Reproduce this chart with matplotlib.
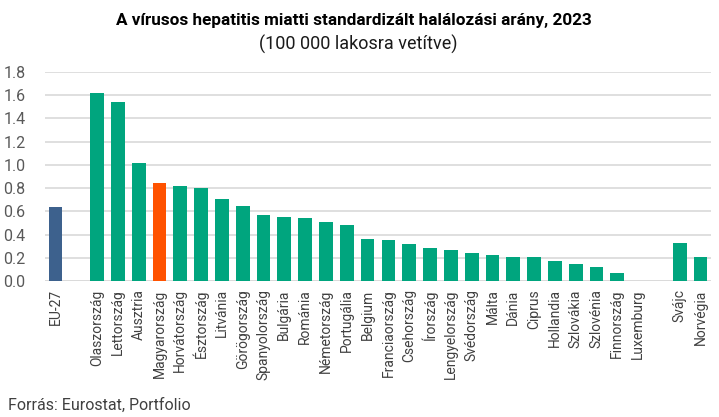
import matplotlib
matplotlib.use("Agg")
import matplotlib.pyplot as plt

countries = ["EU-27", "", "Olaszország", "Lettország", "Ausztria", "Magyarország",
             "Horvátország", "Észtország", "Litvánia", "Görögország", "Spanyolország",
             "Bulgária", "Románia", "Németország", "Portugália", "Belgium",
             "Franciaország", "Csehország", "Írország", "Lengyelország", "Svédország",
             "Málta", "Dánia", "Ciprus", "Hollandia", "Szlovákia", "Szlovénia",
             "Finnország", "Luxemburg", "", "Svájc", "Norvégia"]
values = [0.64, 0.0, 1.62, 1.54, 1.02, 0.84, 0.82, 0.80, 0.71, 0.65, 0.57,
          0.55, 0.54, 0.51, 0.48, 0.36, 0.35, 0.32, 0.28, 0.27, 0.24,
          0.22, 0.21, 0.21, 0.17, 0.15, 0.12, 0.07, 0.0, 0.0, 0.33, 0.21]
yticks = [0.0, 0.2, 0.4, 0.6, 0.8, 1.0, 1.2, 1.4, 1.6, 1.8]

GREEN = "#00A57E"
NAVY = "#3D618D"
ORANGE = "#FF5200"

plt.rcParams['font.family'] = ['Roboto', 'DejaVu Sans']

fig = plt.figure(figsize=(7.19, 4.17), dpi=100)
ax = fig.add_axes([45/719, 1-281/417, (711-45)/719, (281-72)/417])

colors = []
for c in countries:
    if c == "EU-27":
        colors.append(NAVY)
    elif c == "Magyarország":
        colors.append(ORANGE)
    else:
        colors.append(GREEN)

x = list(range(len(countries)))
ax.bar(x, values, width=0.66, color=colors, zorder=3)

ax.set_xlim(-0.5, len(countries) - 0.5)
ax.set_ylim(0, 1.8)
ax.set_yticks(yticks)
ax.set_yticklabels([f"{v:.1f}" for v in yticks], fontsize=11.5, color="#595959")
ax.set_xticks(x)
ax.set_xticklabels(countries, rotation=90, fontsize=10, color="#404040")
ax.tick_params(axis='both', length=0)
ax.tick_params(axis='y', pad=14)
ax.tick_params(axis='x', pad=6)
ax.grid(axis='y', color="#D9D9D9", linewidth=1.2, zorder=0)
for s in ax.spines.values():
    s.set_visible(False)
ax.axhline(0, color="#D9D9D9", linewidth=1.2, zorder=2)

fig.text(354/719, 1-20/417, "A vírusos hepatitis miatti standardizált halálozási arány, 2023",
         ha='center', va='center', fontsize=12.3, fontweight='bold', color="black")
fig.text(358/719, 1-44/417, "(100 000 lakosra vetítve)", ha='center', va='center',
         fontsize=13, color="#1a1a1a")
fig.text(8/719, 1-405/417, "Forrás: Eurostat, Portfolio", ha='left', va='center',
         fontsize=11.5, color="#404040")

fig.savefig("out.png", dpi=100)
